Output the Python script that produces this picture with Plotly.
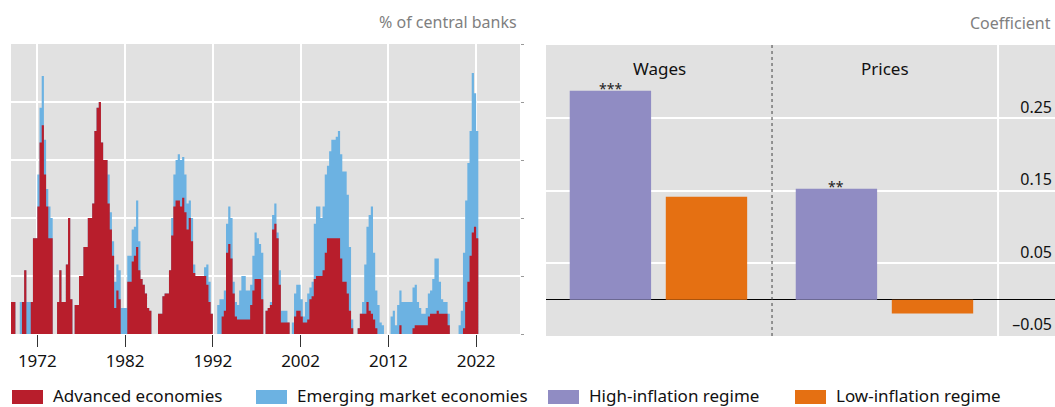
import plotly.graph_objects as go

# ---------------- data: left panel (quarterly, % of central banks) ----------------
start_year = 1969  # first quarter shown: 1969 Q1
advanced = [
    11, 11, 0, 0,   0, 11, 22, 0,   0, 11, 33, 33,          # 1969-1971
    44, 66, 72, 55,  44, 33, 33, 0,  0, 11, 22, 11,          # 1972-1974
    11, 24, 40, 12,  0, 10, 10, 20,  20, 30, 30, 40,         # 1975-1977
    40, 45, 70, 78,  80, 66, 60, 60,  45, 36, 27, 9,         # 1978-1980
    15, 12, 0, 0,   0, 18, 18, 25,  27, 30, 22, 19,          # 1981-1983
    17, 14, 9, 8,   0, 0, 0, 7,     7, 13, 14, 14,           # 1984-1986
    22, 34, 44, 46,  46, 44, 47, 42,  36, 40, 32, 21,        # 1987-1989
    20, 20, 20, 20,  20, 17, 11, 7,   0, 0, 0, 0,            # 1990-1992
    6, 8, 28, 31,   26, 14, 6, 5,   5, 5, 5, 5,              # 1993-1995
    5, 10, 15, 19,  19, 19, 12, 0,  8, 9, 10, 36,            # 1996-1998
    38, 33, 17, 4,  4, 4, 4, 0,     0, 6, 8, 8,              # 1999-2001
    6, 4, 4, 5,     12, 13, 19, 20,  20, 20, 22, 28,         # 2002-2004
    33, 33, 33, 33,  33, 33, 26, 18,  18, 14, 8, 2,          # 2005-2007
    0, 0, 2, 7,     7, 7, 11, 8,    7, 5, 2, 0,              # 2008-2010
    0, 0, 0, 0,     0, 0, 0, 0,     0, 3, 0, 0,              # 2011-2013
    0, 0, 0, 2,     3, 3, 3, 3,     3, 3, 6, 7,              # 2014-2016
    7, 7, 8, 7,     7, 7, 7, 3,     0, 0, 0, 0,              # 2017-2019
    0, 0, 2, 11,    18, 27, 35, 37,  33,                     # 2020-2022Q1
]
emerging = [
    0, 0, 0, 0,     11, 0, 0, 11,   11, 0, 0, 0,             # 1969-1971
    11, 12, 17, 12,  6, 11, 7, 0,   0, 0, 0, 0,              # 1972-1974
    0, 0, 0, 0,     0, 0, 0, 0,     0, 0, 0, 0,              # 1975-1977
    0, 0, 0, 0,     0, 0, 0, 0,     10, 6, 5, 9,             # 1978-1980
    9, 10, 9, 9,    9, 9, 9, 11,    10, 16, 10, 0,           # 1981-1983
    0, 0, 0, 0,     0, 0, 0, 0,     0, 0, 0, 0,              # 1984-1986
    0, 6, 11, 14,   16, 16, 14, 13,  9, 6, 8, 3,             # 1987-1989
    0, 0, 0, 0,     3, 7, 7, 0,     0, 0, 10, 12,            # 1990-1992
    6, 7, 10, 13,   14, 4, 5, 5,    10, 15, 15, 10,          # 1993-1995
    10, 7, 12, 16,  14, 12, 16, 0,  0, 0, 1, 5,              # 1996-1998
    7, 2, 5, 4,     4, 4, 0, 0,     4, 8, 9, 9,              # 1999-2001
    6, 2, 7, 9,     4, 5, 19, 24,   24, 20, 22, 27,          # 2002-2004
    25, 30, 34, 34,  35, 37, 36, 38,  38, 34, 22, 3,         # 2005-2007
    0, 0, 0, 0,     4, 17, 26, 33,  37, 23, 13, 10,          # 2008-2010
    4, 3, 0, 0,     0, 6, 8, 3,     10, 12, 11, 11,          # 2011-2013
    11, 11, 11, 14,  14, 8, 6, 4,   4, 6, 8, 8,              # 2014-2016
    12, 19, 18, 11,  5, 4, 4, 4,    0, 0, 0, 0,              # 2017-2019
    3, 8, 26, 35,   41, 43, 55, 46,  37,                     # 2020-2022Q1
]
year_ticks = [1972, 1982, 1992, 2002, 2012, 2022]

# ---------------- data: right panel (coefficients) ----------------
groups = ["Wages", "Prices"]
high_regime = [0.288, 0.153]
low_regime = [0.142, -0.019]
stars_high = ["***", "**"]
coef_ticks = [-0.05, 0.05, 0.15, 0.25]
coef_ticktext = ["\u20130.05", "0.05", "0.15", "0.25"]

# ---------------- styling ----------------
RED = "#b81e2c"
BLUE = "#6cb2e2"
PURPLE = "#908cc3"
ORANGE = "#e57012"
BG = "#e1e1e1"
FONT = "Noto Sans"
W, H = 1055, 407
MT, MB = 44, 71


def px(x):
    return x / W


def py(y):
    return (H - MB - y) / (H - MT - MB)


# quarterly columns drawn as seamless step areas (each quarter = one column)
q_starts = [start_year + 0.25 * i for i in range(len(advanced) + 1)]
adv_steps = advanced + advanced[-1:]
total_steps = [a + e for a, e in zip(advanced, emerging)]
total_steps = total_steps + total_steps[-1:]
group_x = list(range(len(groups)))

fig = go.Figure()

fig.add_trace(go.Scatter(
    x=q_starts, y=total_steps, mode="lines", line=dict(width=0, shape="hv"),
    fill="tozeroy", fillcolor=BLUE,
    name="Emerging market economies", xaxis="x", yaxis="y", showlegend=False,
))
fig.add_trace(go.Scatter(
    x=q_starts, y=adv_steps, mode="lines", line=dict(width=0, shape="hv"),
    fill="tozeroy", fillcolor=RED,
    name="Advanced economies", xaxis="x", yaxis="y", showlegend=False,
))
fig.add_trace(go.Bar(
    x=group_x, y=high_regime, width=0.36, offset=-0.395,
    marker=dict(color=PURPLE, line=dict(width=0)),
    name="High-inflation regime", xaxis="x2", yaxis="y2", showlegend=False,
))
fig.add_trace(go.Bar(
    x=group_x, y=low_regime, width=0.36, offset=0.03,
    marker=dict(color=ORANGE, line=dict(width=0)),
    name="Low-inflation regime", xaxis="x2", yaxis="y2", showlegend=False,
))

annotations = [
    dict(text="% of central banks", x=px(519), y=py(22), xref="paper", yref="paper",
         xanchor="right", yanchor="middle", showarrow=False,
         font=dict(family=FONT, size=16, color="#7f7f7f")),
    dict(text="Coefficient", x=px(1053), y=py(23), xref="paper", yref="paper",
         xanchor="right", yanchor="middle", showarrow=False,
         font=dict(family=FONT, size=16, color="#7f7f7f")),
]
for gx, g in zip(group_x, groups):
    annotations.append(dict(text=g, x=gx, y=0.319, xref="x2", yref="y2",
                            xanchor="center", yanchor="middle", showarrow=False,
                            font=dict(family=FONT, size=17, color="#111")))
for gx, val, s in zip(group_x, high_regime, stars_high):
    annotations.append(dict(text=s, x=gx - 0.215, y=val, xref="x2", yref="y2",
                            xanchor="center", yanchor="bottom", yshift=-9, showarrow=False,
                            font=dict(family=FONT, size=14, color="#222")))

shapes = [
    dict(type="line", xref="x2", yref="y2 domain", x0=0.5, x1=0.5, y0=0, y1=1,
         line=dict(color="#444", width=1, dash="3px,3px")),
    dict(type="line", xref="x2", yref="y2 domain", x0=1.5, x1=1.5, y0=0, y1=1,
         line=dict(color="white", width=2), layer="below"),
]

legend_items = [
    ("Advanced economies", RED, 12),
    ("Emerging market economies", BLUE, 256),
    ("High-inflation regime", PURPLE, 548),
    ("Low-inflation regime", ORANGE, 795),
]
for label, col, x0 in legend_items:
    shapes.append(dict(type="rect", xref="paper", yref="paper",
                       x0=px(x0), x1=px(x0 + 31), y0=py(404), y1=py(390),
                       fillcolor=col, line=dict(width=0)))
    annotations.append(dict(text=label, x=px(x0 + 39), y=py(395), xref="paper", yref="paper",
                            xanchor="left", yanchor="middle", showarrow=False,
                            font=dict(family=FONT, size=17, color="#111")))

fig.update_layout(
    width=W, height=H,
    margin=dict(l=0, r=0, t=MT, b=MB),
    paper_bgcolor="white",
    plot_bgcolor=BG,
    barmode="overlay",
    font=dict(family=FONT, size=16, color="#111"),
    showlegend=False,
    annotations=annotations,
    shapes=shapes,
    xaxis=dict(domain=[px(11), px(520)], range=[1969.0, 2027.0],
               tickvals=year_ticks, ticktext=[str(t) for t in year_ticks],
               ticks="outside", ticklen=12, tickwidth=1, tickcolor="#333",
               showgrid=True, gridcolor="white", gridwidth=1.5,
               zeroline=False, showline=False,
               tickfont=dict(family=FONT, size=17, color="#111")),
    yaxis=dict(domain=[2 / 292, 1], range=[0, 100], tickvals=[0, 20, 40, 60, 80, 100],
               side="right", ticks="outside", ticklen=3, tickcolor="#999",
               showticklabels=False, showgrid=True, gridcolor="white", gridwidth=1.5,
               zeroline=False, showline=False),
    xaxis2=dict(domain=[px(546), 1], range=[-0.5, 1.752], showticklabels=False,
                ticks="", showgrid=False, zeroline=False, showline=False, anchor="y2"),
    yaxis2=dict(domain=[0, 291 / 292], range=[-0.05, 0.351], anchor="x2", side="right",
                tickvals=coef_ticks, ticktext=coef_ticktext,
                ticklabelposition="inside top", ticks="",
                showgrid=True, gridcolor="white", gridwidth=1.5,
                zeroline=True, zerolinecolor="#000", zerolinewidth=1.3,
                showline=False, tickfont=dict(family=FONT, size=16, color="#111")),
)

fig.write_html("out.html")
